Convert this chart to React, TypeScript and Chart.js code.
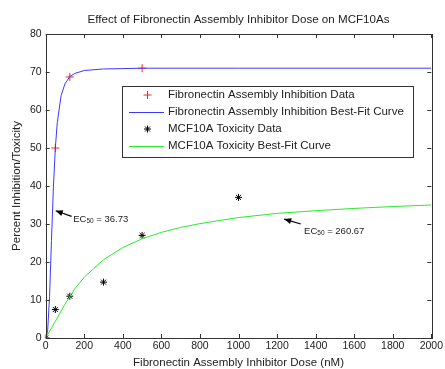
import React, { useEffect, useRef } from "react";
import { Chart, registerables } from "chart.js";

Chart.register(...registerables);

const TITLE = "Effect of Fibronectin Assembly Inhibitor Dose on MCF10As";
const X_TITLE = "Fibronectin Assembly Inhibitor Dose (nM)";
const Y_TITLE = "Percent Inhibition/Toxicity";

const seriesLabels = [
  "Fibronectin Assembly Inhibition Data",
  "Fibronectin Assembly Inhibition Best-Fit Curve",
  "MCF10A Toxicity Data",
  "MCF10A Toxicity Best-Fit Curve",
];

// Fibronectin assembly inhibition data
const fnDataX = [0, 50, 125, 500];
const fnDataY = [0, 50, 68.7, 71];

// Fibronectin best-fit curve
const fnFitX = [0, 10, 20, 30, 40, 50, 60, 80, 100, 125, 150, 200, 300, 400, 500, 1000, 2000];
const fnFitY = [0, 1.8, 10.9, 25.7, 39.7, 50, 56.7, 63.8, 66.9, 68.8, 69.6, 70.4, 70.8, 70.9, 71, 71, 71];

// MCF10A toxicity data
const txDataX = [0, 50, 125, 300, 500, 1000];
const txDataY = [0, 7.5, 11, 14.7, 27, 37];

// MCF10A best-fit curve
const txFitX = [0, 50, 100, 150, 200, 300, 400, 500, 600, 700, 800, 1000, 1200, 1400, 1600, 1800, 2000];
const txFitY = [0, 4.4, 8.9, 12.9, 16.0, 20.6, 23.8, 26.1, 27.8, 29.1, 30.1, 31.7, 32.8, 33.5, 34.1, 34.6, 35.0];

// Annotations: [tipX, tipY, tailX, tailY, textX, textY, value]
const ann1 = [52, 33.5, 134, 32, 143, 31.2, "36.73"];
const ann2 = [1237, 31.3, 1323, 30, 1340, 28.2, "260.67"];

const FONT = "'Liberation Sans', Arial, sans-serif";
const RED = "#ff2020";
const BLUE = "#3a3aff";
const GREEN = "#2ee82e";

const pts = (xs: number[], ys: number[]) => xs.map((x, i) => ({ x, y: ys[i] }));

const decorPlugin = {
  id: "decor",
  afterDatasetsDraw(chart: any) {
    const { ctx, chartArea: ca, scales } = chart;
    const xs = scales.x;
    const ys = scales.y;
    ctx.save();
    // title
    ctx.fillStyle = "#222";
    ctx.font = `11.6px ${FONT}`;
    ctx.textAlign = "center";
    ctx.textBaseline = "middle";
    ctx.fillText(TITLE, (ca.left + ca.right) / 2, 20);
    // frame
    ctx.strokeStyle = "#333";
    ctx.lineWidth = 1;
    ctx.strokeRect(Math.round(ca.left) + 0.5, Math.round(ca.top) + 0.5, Math.round(ca.right - ca.left), Math.round(ca.bottom - ca.top));
    // inward ticks
    const tl = 4;
    ctx.beginPath();
    xs.ticks.forEach((t: any) => {
      const px = Math.round(xs.getPixelForValue(t.value)) + 0.5;
      ctx.moveTo(px, ca.bottom);
      ctx.lineTo(px, ca.bottom - tl);
      ctx.moveTo(px, ca.top);
      ctx.lineTo(px, ca.top + tl);
    });
    ys.ticks.forEach((t: any) => {
      const py = Math.round(ys.getPixelForValue(t.value)) + 0.5;
      ctx.moveTo(ca.left, py);
      ctx.lineTo(ca.left + tl, py);
      ctx.moveTo(ca.right, py);
      ctx.lineTo(ca.right - tl, py);
    });
    ctx.stroke();

    // annotations
    const drawAnn = (a: any[]) => {
      const tx = xs.getPixelForValue(a[0]);
      const ty = ys.getPixelForValue(a[1]);
      const sx = xs.getPixelForValue(a[2]);
      const sy = ys.getPixelForValue(a[3]);
      ctx.strokeStyle = "#000";
      ctx.fillStyle = "#000";
      ctx.lineWidth = 1.2;
      ctx.beginPath();
      ctx.moveTo(sx, sy);
      ctx.lineTo(tx, ty);
      ctx.stroke();
      const ang = Math.atan2(ty - sy, tx - sx);
      const hl = 7, hw = 3;
      ctx.beginPath();
      ctx.moveTo(tx, ty);
      ctx.lineTo(tx - hl * Math.cos(ang) + hw * Math.sin(ang), ty - hl * Math.sin(ang) - hw * Math.cos(ang));
      ctx.lineTo(tx - hl * Math.cos(ang) - hw * Math.sin(ang), ty - hl * Math.sin(ang) + hw * Math.cos(ang));
      ctx.closePath();
      ctx.fill();
      const px = xs.getPixelForValue(a[4]);
      const py = ys.getPixelForValue(a[5]);
      ctx.fillStyle = "#222";
      ctx.textBaseline = "alphabetic";
      ctx.textAlign = "left";
      ctx.font = `9.5px ${FONT}`;
      ctx.fillText("EC", px, py + 3);
      const w1 = ctx.measureText("EC").width;
      ctx.font = `6.5px ${FONT}`;
      ctx.fillText("50", px + w1, py + 4);
      const w2 = ctx.measureText("50").width;
      ctx.font = `9.5px ${FONT}`;
      ctx.fillText(" = " + a[6], px + w1 + w2, py + 3);
    };
    drawAnn(ann1);
    drawAnn(ann2);

    // legend
    const lx = 122.5, ly = 86.5, lw = 291, lh = 71;
    ctx.fillStyle = "#fff";
    ctx.fillRect(lx, ly, lw, lh);
    ctx.strokeStyle = "#333";
    ctx.lineWidth = 1;
    ctx.strokeRect(lx, ly, lw, lh);
    const rows = [95, 112, 129, 146];
    const mx = 147.5;
    ctx.font = `11.5px ${FONT}`;
    ctx.textBaseline = "middle";
    ctx.textAlign = "left";
    rows.forEach((ry, i) => {
      if (i === 0) {
        ctx.strokeStyle = RED;
        ctx.beginPath();
        ctx.moveTo(mx - 4, ry); ctx.lineTo(mx + 4, ry);
        ctx.moveTo(mx, ry - 4); ctx.lineTo(mx, ry + 4);
        ctx.stroke();
      } else if (i === 2) {
        ctx.strokeStyle = "#000";
        ctx.beginPath();
        ctx.moveTo(mx - 3.5, ry); ctx.lineTo(mx + 3.5, ry);
        ctx.moveTo(mx, ry - 3.5); ctx.lineTo(mx, ry + 3.5);
        ctx.moveTo(mx - 2.5, ry - 2.5); ctx.lineTo(mx + 2.5, ry + 2.5);
        ctx.moveTo(mx - 2.5, ry + 2.5); ctx.lineTo(mx + 2.5, ry - 2.5);
        ctx.stroke();
      } else {
        ctx.strokeStyle = i === 1 ? BLUE : GREEN;
        ctx.beginPath();
        ctx.moveTo(129, ry + 0.5); ctx.lineTo(164, ry + 0.5);
        ctx.stroke();
      }
      ctx.fillStyle = "#222";
      ctx.fillText(seriesLabels[i], 168, ry);
    });
    ctx.restore();
  },
};

export default function App() {
  const ref = useRef<HTMLCanvasElement>(null);
  useEffect(() => {
    if (!ref.current) return;
    const chart = new Chart(ref.current, {
      type: "scatter",
      data: {
        datasets: [
          {
            label: seriesLabels[1],
            data: pts(fnFitX, fnFitY),
            showLine: true,
            borderColor: BLUE,
            borderWidth: 1,
            pointRadius: 0,
            tension: 0,
          },
          {
            label: seriesLabels[3],
            data: pts(txFitX, txFitY),
            showLine: true,
            borderColor: GREEN,
            borderWidth: 1,
            pointRadius: 0,
            tension: 0,
          },
          {
            label: seriesLabels[0],
            data: pts(fnDataX, fnDataY),
            pointStyle: "cross",
            pointRadius: 4,
            borderColor: RED,
            backgroundColor: RED,
            borderWidth: 1,
          },
          {
            label: seriesLabels[2],
            data: pts(txDataX, txDataY),
            pointStyle: "star",
            pointRadius: 3.5,
            borderColor: "#000",
            backgroundColor: "#000",
            borderWidth: 1,
          },
        ],
      },
      options: {
        animation: false,
        responsive: false,
        layout: { padding: { left: 0, right: 12.5, top: 34, bottom: 0 } },
        plugins: {
          legend: { display: false },
          tooltip: { enabled: false },
          title: { display: false },
        },
        scales: {
          x: {
            type: "linear",
            min: 0,
            max: 2000,
            ticks: {
              stepSize: 200,
              color: "#222",
              padding: 2,
              font: { family: FONT, size: 10.5 },
              maxRotation: 0,
              callback: (v: any) => String(v),
            },
            grid: { display: false, drawTicks: false },
            border: { display: false },
            title: {
              display: true,
              text: X_TITLE,
              color: "#222",
              font: { family: FONT, size: 11.5, lineHeight: 1.2 },
              padding: { top: 0, bottom: -0.5 },
            },
            afterFit: (s: any) => { s.height = 31; },
          },
          y: {
            type: "linear",
            min: 0,
            max: 80,
            ticks: { stepSize: 10, color: "#222", padding: 4, font: { family: FONT, size: 10.5 } },
            grid: { display: false, drawTicks: false },
            border: { display: false },
            title: {
              display: true,
              text: Y_TITLE,
              color: "#222",
              font: { family: FONT, size: 11.5, lineHeight: 1.2 },
              padding: { top: 10, bottom: 0 },
            },
            afterFit: (s: any) => { s.width = 45.7; },
          },
        },
      },
      plugins: [decorPlugin],
    });
    return () => chart.destroy();
  }, []);
  return (
    <div style={{ position: "absolute", left: 0, top: 0, width: 445, height: 369, background: "#fff" }}>
      <canvas ref={ref} width={445} height={369} />
    </div>
  );
}
